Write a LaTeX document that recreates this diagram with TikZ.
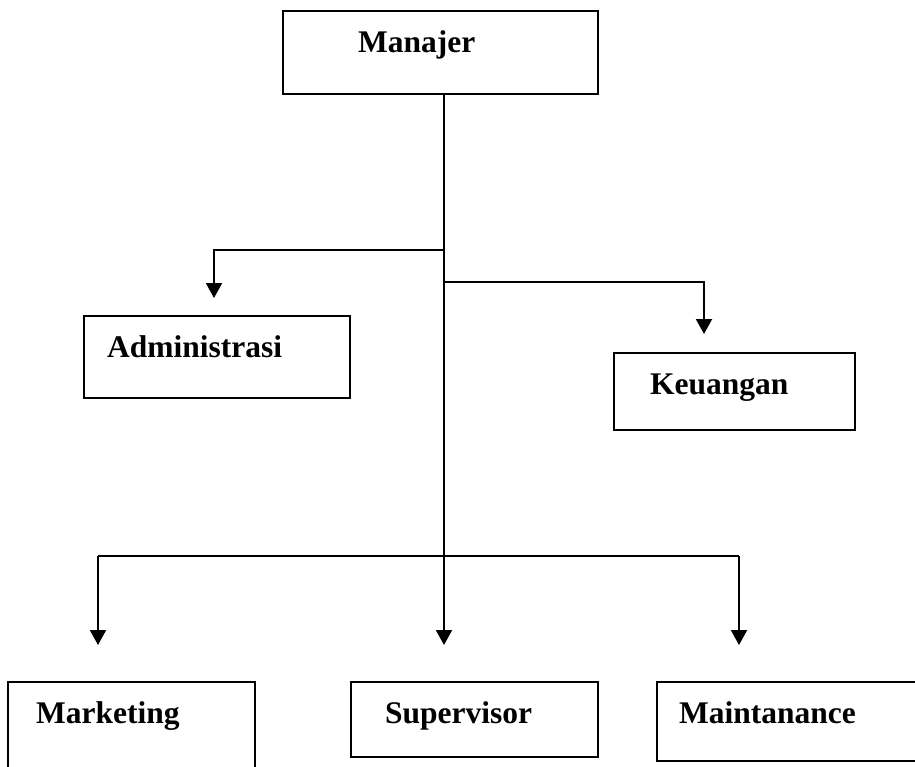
\documentclass[tikz,border=0pt]{standalone}
\usepackage{fontspec}
\setmainfont{Liberation Serif}
\usetikzlibrary{arrows.meta}
\begin{document}
\begin{tikzpicture}[x=1pt,y=-1pt,
  box/.style={draw,line width=2pt,rectangle,inner sep=0pt},
  lbl/.style={anchor=base west,inner sep=0pt,font=\fontsize{31.5}{36}\selectfont\bfseries},
  conn/.style={line width=2pt},
  arr/.style={line width=2pt,-{Triangle[width=16pt,length=15pt]}}]
\useasboundingbox (0,0) rectangle (915,766);
\clip (0,0) rectangle (915,766);
% boxes
\node[box,minimum width=315pt,minimum height=83pt] (man) at (440.5,52.5) {};
\node[box,minimum width=266pt,minimum height=82pt] (adm) at (217,357) {};
\node[box,minimum width=241pt,minimum height=77pt] (keu) at (734.5,391.5) {};
\node[box,minimum width=247pt,minimum height=100pt] (mkt) at (131.5,732) {};
\node[box,minimum width=247pt,minimum height=75pt] (sup) at (474.5,719.5) {};
\node[box,minimum width=280pt,minimum height=79pt] (mnt) at (797,721.5) {};
% labels
\node[lbl] (tman) at (358,52) {Manajer};
\node[lbl] (tadm) at (107,357) {Administrasi};
\node[lbl] (tkeu) at (650,394) {Keuangan};
\node[lbl] (tmkt) at (36,723) {Marketing};
\node[lbl] (tsup) at (385,723) {Supervisor};
\node[lbl] (tmnt) at (679,723) {Maintanance};
% junctions and free ends
\coordinate (j1) at (444,250);
\coordinate (j2) at (444,282);
\coordinate (j3) at (444,556);
\coordinate (c1) at (214,250);
\coordinate (e1) at (214,298);
\coordinate (c2) at (704,282);
\coordinate (e2) at (704,334);
\coordinate (c3) at (98,556);
\coordinate (e3) at (98,645);
\coordinate (e4) at (444,645);
\coordinate (c5) at (739,556);
\coordinate (e5) at (739,645);
% connectors
\draw[arr] ([xshift=3.5pt]man.south) -- (e4);
\draw[arr] (j1) -- (c1) -- (e1);
\draw[arr] (j2) -- (c2) -- (e2);
\draw[conn] (c3) -- (c5);
\draw[arr] (c3) -- (e3);
\draw[arr] (c5) -- (e5);
\end{tikzpicture}
\end{document}
